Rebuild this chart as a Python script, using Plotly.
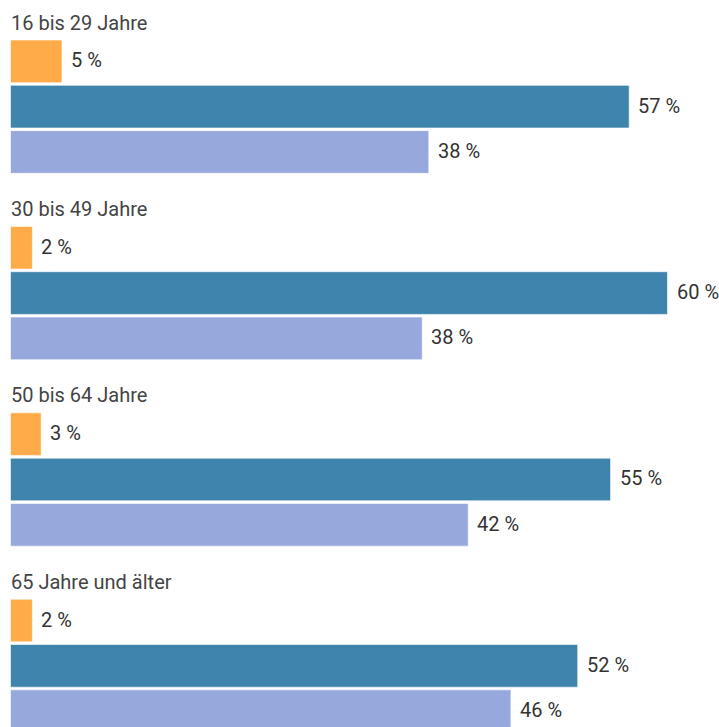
import plotly.graph_objects as go

groups = ["16 bis 29 Jahre", "30 bis 49 Jahre", "50 bis 64 Jahre", "65 Jahre und älter"]
series_names = ["Serie A", "Serie B", "Serie C"]
series_a = [4.7, 2.0, 2.8, 2.0]
series_b = [56.5, 60.0, 54.8, 51.8]
series_c = [38.2, 37.6, 41.8, 45.7]
labels_a = ["5 %", "2 %", "3 %", "2 %"]
labels_b = ["57 %", "60 %", "55 %", "52 %"]
labels_c = ["38 %", "38 %", "42 %", "46 %"]
colors = ["#FFAB4A", "#3E84AC", "#96A8DC"]

# layout constants (pixel units on the y axis; body margin removed below)
W, H = 719, 727
first_top = 40.0
group_period = 186.4
bar_pitch = 45.33
bar_h = 42.67
px_per_unit = 10.95
x0_px = 10.5

def bar_center(g, i):
    return first_top + g * group_period + i * bar_pitch + bar_h / 2

fig = go.Figure()
all_series = [series_a, series_b, series_c]
all_labels = [labels_a, labels_b, labels_c]
for i, (vals, name, col) in enumerate(zip(all_series, series_names, colors)):
    ys = [bar_center(g, i) for g in range(len(groups))]
    fig.add_trace(go.Bar(
        x=vals, y=ys, orientation="h", width=bar_h, name=name,
        marker=dict(color=col, line=dict(color="rgba(255,255,255,0.6)", width=1)),
        hoverinfo="skip",
    ))
    for v, y, lab in zip(vals, ys, all_labels[i]):
        fig.add_annotation(x=v, y=y, text=lab, showarrow=False, xanchor="left",
                           yanchor="middle", xshift=7, yshift=1,
                           font=dict(family="Roboto", size=20, color="#333333"))

for g, name in enumerate(groups):
    fig.add_annotation(x=0, y=first_top + g * group_period - 17.5, text=name, showarrow=False,
                       xanchor="left", yanchor="middle", xshift=-2,
                       font=dict(family="Roboto", size=20, color="#444444"))

fig.update_layout(
    width=W, height=H, margin=dict(l=0, r=0, t=0, b=0),
    paper_bgcolor="white", plot_bgcolor="white",
    showlegend=False, barmode="overlay", hovermode=False,
    xaxis=dict(range=[-x0_px / px_per_unit, (W - x0_px) / px_per_unit], visible=False, fixedrange=True),
    yaxis=dict(range=[H, 0], visible=False, fixedrange=True),
)
fig.write_html("out.html", config={"displayModeBar": False, "staticPlot": True},
               post_script="document.body.style.margin='0px';document.body.style.overflow='hidden';")
